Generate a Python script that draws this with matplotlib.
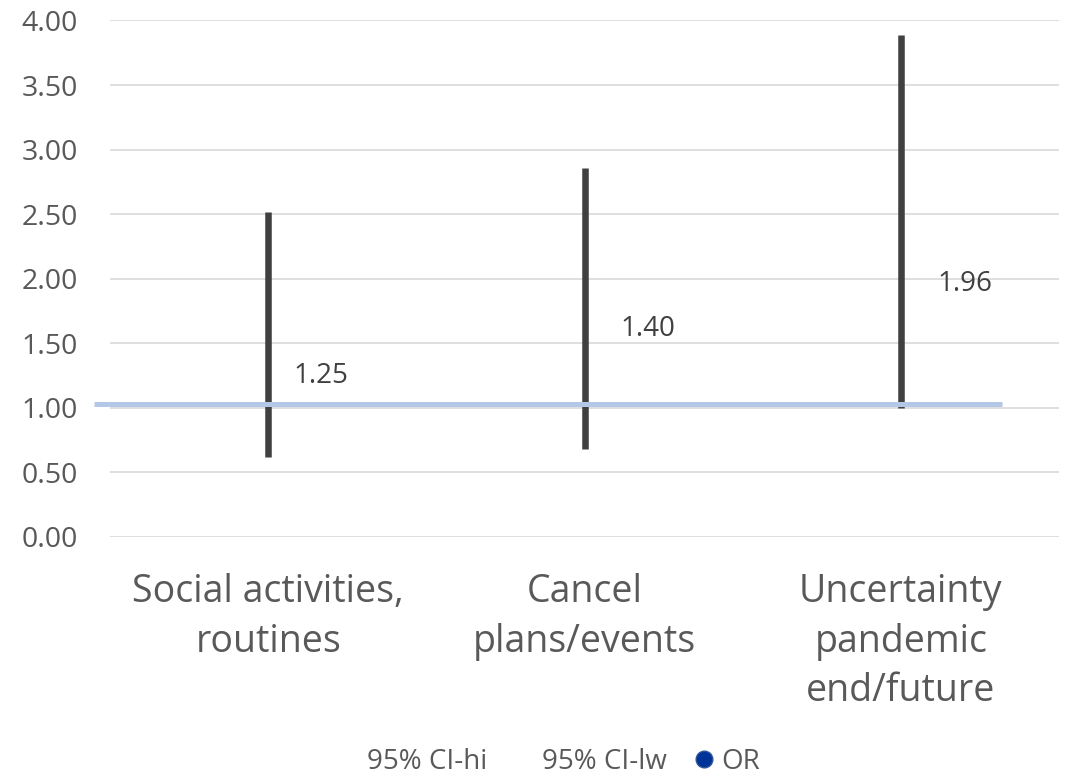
import matplotlib
matplotlib.use('Agg')
import matplotlib.pyplot as plt
from matplotlib.lines import Line2D

categorias = ["Social activities,\nroutines", "Cancel\nplans/events", "Uncertainty\npandemic\nend/future"]
ci_hi = [2.52, 2.86, 3.89]
ci_lw = [0.62, 0.68, 1.00]
odds_ratio = [1.25, 1.40, 1.96]
linea_ref = 1.03

plt.rcParams['font.family'] = ['Open Sans', 'DejaVu Sans']
gris = "#595959"

fig = plt.figure(figsize=(10.68, 7.79), dpi=100)
ax = fig.add_axes([0.103, 0.3107, 0.8886, 0.663])

x = list(range(len(categorias)))
ax.vlines(x, ci_lw, ci_hi, color="#404040", linewidth=4.7, zorder=3)

# línea de referencia (OR = 1), empieza un poco antes del área del gráfico
ax.plot([-0.551, 2.319], [linea_ref, linea_ref], color="#B4C7E7", linewidth=3.6,
        zorder=4, clip_on=False, solid_capstyle="butt")

# etiquetas del OR (la de 1.40 está movida hacia arriba en el original)
desplaz_y = [0.0, 0.21, 0.0]
desplaz_x = [0.08, 0.115, 0.115]
for xi, v, dy, dx in zip(x, odds_ratio, desplaz_y, desplaz_x):
    ax.text(xi + dx, v + dy, f"{v:.2f}", fontsize=20, color="#404040", va="center")

ax.set_xlim(-0.5, 2.5)
ax.set_ylim(0, 4)
ax.set_yticks([i * 0.5 for i in range(9)])
ax.set_yticklabels([f"{i * 0.5:.2f}" for i in range(9)])
ax.set_xticks(x)
ax.set_xticklabels(categorias, fontsize=27, color=gris, linespacing=1.4)
ax.tick_params(axis="y", labelsize=20.5, labelcolor=gris, length=0, pad=23)
ax.tick_params(axis="x", length=0, pad=26)
ax.grid(axis="y", color="#D9D9D9", linewidth=1.2)
ax.set_axisbelow(True)
for s in ax.spines.values():
    s.set_visible(False)

handles = [Line2D([], [], linestyle="none", label="95% CI-hi"),
           Line2D([], [], linestyle="none", label="95% CI-lw"),
           Line2D([], [], linestyle="none", marker="o", markersize=12,
                  markerfacecolor="#003399", markeredgecolor="#2F5597", label="OR")]
fig.legend(handles=handles, loc="center", bbox_to_anchor=(0.5136, 0.022), ncol=3,
           frameon=False, fontsize=20, labelcolor=gris, handlelength=0.9,
           handletextpad=0.2, columnspacing=0.87, borderpad=0)

plt.savefig("out.png", dpi=100)
plt.close()
